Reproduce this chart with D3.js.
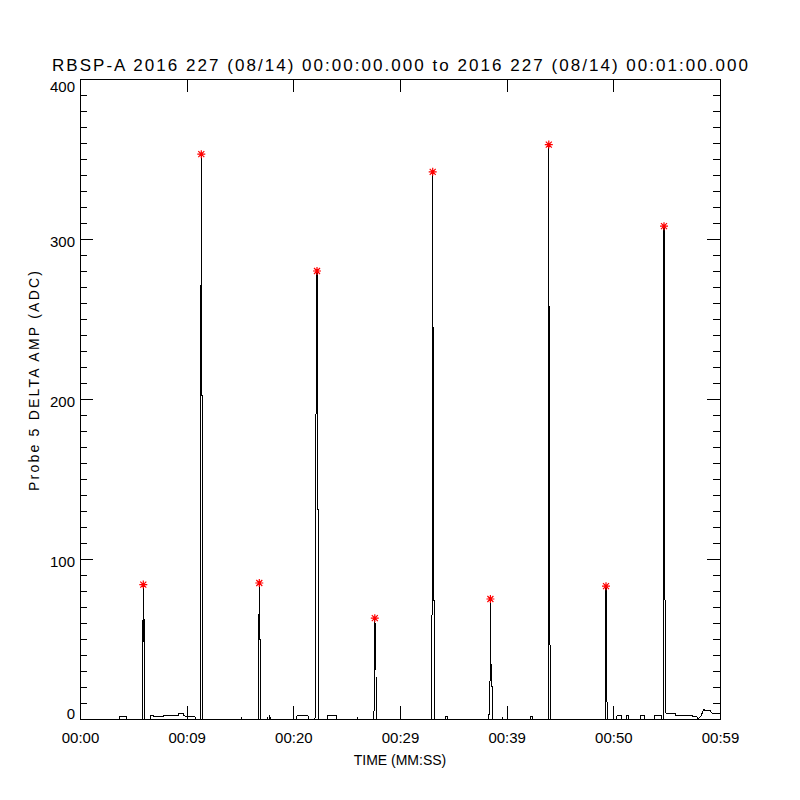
<!DOCTYPE html>
<html>
<head>
<meta charset="utf-8">
<script src="https://cdn.jsdelivr.net/npm/d3@7"></script>
<style>
  body { margin: 0; background: #fff; }
  text { font-family: "Liberation Sans", Arial, sans-serif; fill: #000; }
</style>
</head>
<body>
<div id="chart"></div>
<script>
// time (s from 00:00:00) and probe 5 delta amplitude (ADC)
var times = [0, 3.656, 3.675, 4.388, 4.406,
  5.831, 5.841, 5.897, 5.916, 5.934, 5.963, 6.056, 6.066,
  6.563, 6.591, 6.872, 6.9, 7.809, 7.838, 9.216, 9.244, 9.534, 9.684, 9.713, 10.566, 10.781, 10.809,
  11.306, 11.316, 11.344, 11.372, 11.391, 11.419, 11.456, 11.466,
  15.141, 15.159, 15.188,
  16.706, 16.716, 16.763, 16.809, 16.838, 16.875, 16.903, 16.913,
  17.531, 17.55, 17.625, 17.766, 17.784, 17.878,
  20.316, 20.344, 21.375, 21.403,
  22.031, 22.05, 22.088, 22.106, 22.153, 22.219, 22.247, 22.275, 22.341, 22.359,
  23.184, 23.213, 24.066, 24.094,
  25.997, 26.016, 26.063,
  27.563, 27.572, 27.609, 27.638, 27.666, 27.703, 27.75, 27.759,
  32.963, 32.972, 33.009, 33.038, 33.066, 33.094, 33.15, 33.206, 33.216,
  34.247, 34.266, 34.434, 34.453,
  38.325, 38.344, 38.419, 38.438, 38.456, 38.475, 38.503, 38.55, 38.644, 38.653,
  39.581, 39.591, 39.609,
  42.188, 42.206, 42.441, 42.459,
  43.894, 43.903, 43.931, 43.95, 43.978, 44.025, 44.081, 44.091,
  49.238, 49.247, 49.284, 49.313, 49.341, 49.388, 49.425, 49.434,
  50.316, 50.344, 50.784, 50.813, 51.188, 51.206, 51.441, 51.469,
  52.5, 52.519, 52.941, 52.969, 53.841, 53.859, 54.534, 54.563,
  54.675, 54.684, 54.713, 54.75, 54.788, 54.825, 54.863, 54.891, 54.938,
  55.781, 55.81, 56.25, 56.28, 56.531, 56.56, 57.0, 57.03, 57.375, 57.4, 57.844, 57.938,
  58.219, 58.5, 58.594, 59.063, 59.25, 59.813, 60];
var amps = [0, 0, 1.5, 1.5, 0,
  0, 48, 62, 48, 84, 62, 62, 0,
  0, 1.9, 1.9, 1.5, 1.5, 2.1, 2.1, 3.3, 3.7, 3.7, 1.9, 1.7, 1.5, 0,
  0, 202, 267, 353, 267, 202, 202, 0,
  0, 1.3, 0,
  0, 60, 50, 85, 60, 50, 50, 0,
  0, 1.3, 0, 0, 1.3, 0,
  0, 2, 2, 0,
  0, 6, 6, 131, 269, 280, 269, 131, 131, 0,
  0, 2, 2, 0,
  0, 1, 0,
  0, 31, 59, 63, 59, 31, 31, 0,
  0, 30.6, 74, 245, 342, 245, 74, 74, 0,
  0, 1.3, 1.3, 0,
  0, 3, 3, 20.6, 58, 75, 58, 20.6, 20.6, 0,
  0, 1.5, 0,
  0, 1.6, 1.6, 0,
  0, 78, 211, 359, 211, 78, 32, 0,
  0, 14, 50.6, 83, 50.6, 14, 8, 0,
  0, 2, 2, 0, 0, 2, 2, 0,
  0, 2, 2, 0, 0, 2.2, 2.2, 0,
  0, 146, 161, 308, 161, 146, 7.7, 7.7, 3.7,
  3.7, 2, 2, 2.5, 2.5, 2, 2, 2.5, 2.5, 1.5, 1.5, 0,
  2, 6.2, 5.2, 5.2, 3.7, 3.7, 3.2];

// detected peaks (red asterisks)
var peakTimes = [5.934, 11.372, 16.809, 22.219, 27.638, 33.066, 38.475, 43.95, 49.313, 54.75];
var peakAmps = [84, 353, 85, 280, 63, 342, 75, 359, 83, 308];

var xTickValues = [0, 10, 20, 30, 40, 50, 60];
var xTickLabels = ["00:00", "00:09", "00:20", "00:29", "00:39", "00:50", "00:59"];
var yMajorTicks = [0, 100, 200, 300, 400];
var yMinorTicks = d3.range(0, 401, 10);

var titleText = "RBSP-A 2016 227 (08/14) 00:00:00.000 to 2016 227 (08/14) 00:01:00.000";

var margin = {top: 79, right: 80, bottom: 81, left: 80},
    width = 800 - margin.left - margin.right,
    height = 800 - margin.top - margin.bottom;

var svg = d3.select("#chart")
  .append("svg")
    .attr("width", 800)
    .attr("height", 800);

svg.append("rect").attr("width", 800).attr("height", 800).attr("fill", "#fff");

var g = svg.append("g")
    .attr("transform", "translate(" + margin.left + "," + margin.top + ")");

var x = d3.scaleLinear().domain([0, 60]).range([0, width]);
var y = d3.scaleLinear().domain([0, 400]).range([height, 0]);

// the data line
g.append("path")
  .datum(d3.range(times.length))
  .attr("fill", "none")
  .attr("stroke", "#000")
  .attr("stroke-width", 1)
  .attr("shape-rendering", "crispEdges")
  .attr("d", d3.line()
    .x(function(i) { return x(times[i]); })
    .y(function(i) { return y(amps[i]); }));

// axes, ticks pointing inward
function styleAxis(sel) {
  sel.select(".domain").remove();
  sel.selectAll("line").attr("stroke", "#000").attr("shape-rendering", "crispEdges");
}

g.append("g").call(d3.axisLeft(y).tickValues(yMinorTicks).tickSize(-7).tickFormat("")).call(styleAxis);
g.append("g").attr("transform", "translate(" + width + ",0)")
  .call(d3.axisRight(y).tickValues(yMinorTicks).tickSize(-7).tickFormat("")).call(styleAxis);
g.append("g").attr("transform", "translate(" + width + ",0)")
  .call(d3.axisRight(y).tickValues(yMajorTicks).tickSize(-13).tickFormat("")).call(styleAxis);

var yAxis = g.append("g")
  .call(d3.axisLeft(y).tickValues(yMajorTicks).tickSize(-13).tickPadding(5).tickFormat(d3.format("d")))
  .call(styleAxis);
yAxis.selectAll("text")
  .attr("font-size", 15)
  .attr("font-family", "Liberation Sans, Arial, sans-serif")
  .attr("dy", null)
  .attr("y", function(d) {
    // IDL keeps the end labels inside the frame
    var p = y(d) + 7;
    return Math.max(12, Math.min(height - 1, p)) - y(d);
  });

var xAxis = g.append("g").attr("transform", "translate(0," + height + ")")
  .call(d3.axisBottom(x).tickValues(xTickValues).tickSize(-13)
    .tickFormat(function(d, i) { return xTickLabels[i]; }))
  .call(styleAxis);
xAxis.selectAll("text")
  .attr("font-size", 15)
  .attr("font-family", "Liberation Sans, Arial, sans-serif")
  .attr("dy", null)
  .attr("y", 24);

g.append("g")
  .call(d3.axisTop(x).tickValues(xTickValues).tickSize(-13).tickFormat(""))
  .call(styleAxis);

// frame
g.append("rect")
  .attr("x", 0).attr("y", 0)
  .attr("width", width).attr("height", height)
  .attr("fill", "none")
  .attr("stroke", "#000")
  .attr("shape-rendering", "crispEdges");

// peak markers
var star = g.selectAll(".peak")
  .data(d3.range(peakTimes.length))
  .enter().append("path")
    .attr("class", "peak")
    .attr("transform", function(i) { return "translate(" + x(peakTimes[i]) + "," + y(peakAmps[i]) + ")"; })
    .attr("d", "M-4,0L4,0M0,-4L0,4M-3,-3L3,3M-3,3L3,-3")
    .attr("stroke", "#ff0000")
    .attr("stroke-width", 1.2)
    .attr("fill", "none");

// titles
svg.append("text")
  .attr("x", 400).attr("y", 71)
  .attr("text-anchor", "middle")
  .attr("font-size", 17)
  .attr("textLength", 696)
  .attr("lengthAdjust", "spacing")
  .text(titleText);

svg.append("text")
  .attr("x", 400).attr("y", 765)
  .attr("text-anchor", "middle")
  .attr("font-size", 14)
  .text("TIME (MM:SS)");

svg.append("text")
  .attr("text-anchor", "middle")
  .attr("transform", "translate(39,381)rotate(-90)")
  .attr("font-size", 14)
  .attr("textLength", 220)
  .attr("lengthAdjust", "spacing")
  .text("Probe 5 DELTA AMP (ADC)");
</script>
</body>
</html>
